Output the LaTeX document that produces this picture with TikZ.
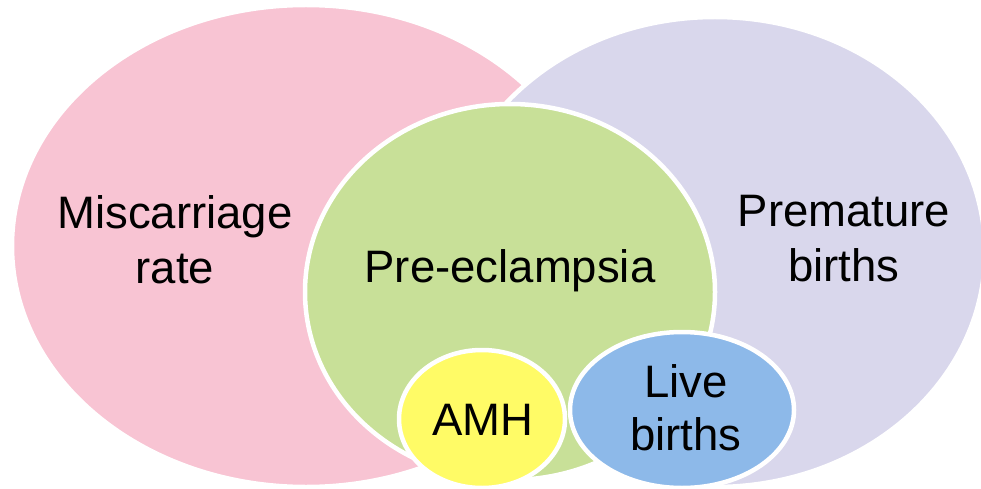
\documentclass[tikz,border=0pt]{standalone}
\usepackage{fontspec}
\setmainfont{Liberation Sans}
\usetikzlibrary{shapes.geometric}
\definecolor{rosefill}{HTML}{F8C4D3}
\definecolor{lilacfill}{HTML}{D9D7EC}
\definecolor{leaf}{HTML}{C8E098}
\definecolor{lemon}{HTML}{FFFB66}
\definecolor{sky}{HTML}{8DB9E9}

\begin{document}
\begin{tikzpicture}[x=1pt, y=-1pt,
  blob/.style={ellipse, draw=white, line width=4.5pt, inner sep=0pt},
  lbl/.style={text=black, font=\fontsize{45.5}{55}\selectfont, align=center, inner sep=0pt}
]
\useasboundingbox (0,0) rectangle (981,489);
\clip (0,0) rectangle (981,489);

\node[blob, fill=rosefill, minimum width=588pt, minimum height=482pt] (misc) at (306,246) {};
\node[blob, fill=lilacfill, minimum width=540pt, minimum height=470pt] (prem) at (715,252) {};
\node[blob, fill=leaf, minimum width=410pt, minimum height=376pt] (pree) at (510,292) {};
\node[blob, fill=lemon, minimum width=166pt, minimum height=138pt] (amh) at (482,419) {};
\node[blob, fill=sky, minimum width=224pt, minimum height=156pt] (live) at (682,410) {};

\node[lbl, anchor=north] (misctxt) at (175,195.4) {Miscarriage\\rate};
\node[lbl, anchor=north] (premtxt) at (844,195.4) {Premature\\births};
\node[lbl, anchor=base] (preetxt) at (510,282) {Pre-eclampsia};
\node[lbl, anchor=base] (amhtxt) at (483,435) {AMH};
\node[lbl, anchor=north, font=\fontsize{45.5}{53}\selectfont] (livetxt) at (686,364.4) {Live\\births};

\end{tikzpicture}
\end{document}
